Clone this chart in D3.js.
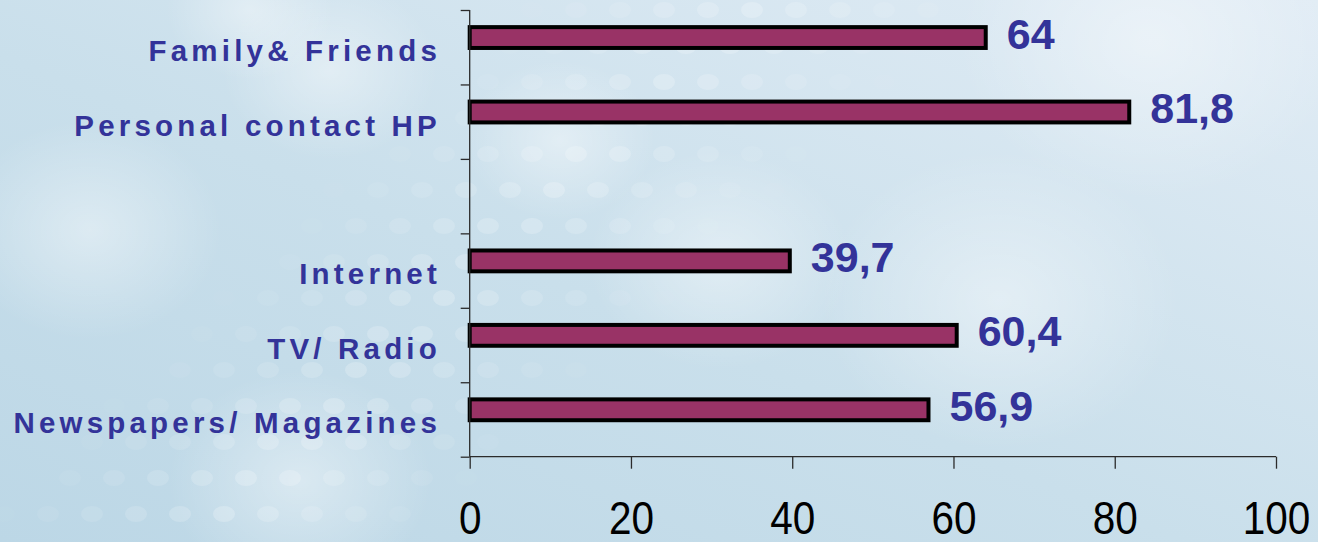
<!DOCTYPE html>
<html><head><meta charset="utf-8">
<script src="https://cdn.jsdelivr.net/npm/d3@7"></script>
<style>html,body{margin:0;padding:0;overflow:hidden;background:#cfe2ee}svg{display:block}</style>
</head><body>
<svg id="c" width="1318" height="542"></svg>
<script>
// ---- data ----
const categories = ["Family& Friends", "Personal contact HP", "", "Internet", "TV/ Radio", "Newspapers/ Magazines"];
const values = [64, 81.8, null, 39.7, 60.4, 56.9];
const valueLabels = ["64", "81,8", "", "39,7", "60,4", "56,9"];
const xTicks = [0, 20, 40, 60, 80, 100];

const W = 1318, H = 542;
const svg = d3.select("#c");
const defs = svg.append("defs");

// ---- background ----
const bg = defs.append("linearGradient").attr("id", "bg")
  .attr("x1", "0").attr("y1", "1").attr("x2", "1").attr("y2", "0");
bg.append("stop").attr("offset", "0").attr("stop-color", "#bcd7e6");
bg.append("stop").attr("offset", "0.45").attr("stop-color", "#c9dfeb");
bg.append("stop").attr("offset", "1").attr("stop-color", "#e1ecf5");
svg.append("rect").attr("width", W).attr("height", H).attr("fill", "url(#bg)");

const blob = defs.append("radialGradient").attr("id", "blob");
blob.append("stop").attr("offset", "0").attr("stop-color", "#ffffff").attr("stop-opacity", 0.4);
blob.append("stop").attr("offset", "1").attr("stop-color", "#ffffff").attr("stop-opacity", 0);
const blobs = [[90, 230, 110], [330, 70, 90], [250, 10, 70], [720, 260, 110], [300, 480, 110], [1150, 40, 160], [1000, 300, 150], [560, 140, 80]];
svg.append("g").selectAll("ellipse").data(blobs).join("ellipse")
  .attr("cx", d => d[0]).attr("cy", d => d[1]).attr("rx", d => d[2] * 1.2).attr("ry", d => d[2])
  .attr("fill", "url(#blob)");

// faint dotted pattern along a diagonal band (decorative)
const dots = [];
for (let r = 0; r < 16; r++) {
  for (let c = 0; c < 24; c++) {
    const px = c * 44 + (r % 2) * 22 - 40;
    const py = r * 36 + 10;
    const d = Math.abs((px - 170) * 0.692 + (py - 560) * 0.721);
    const op = 0.22 * (1 - d / 170);
    if (op > 0.02) dots.push([px, py, op]);
  }
}
svg.append("g").selectAll("ellipse").data(dots).join("ellipse")
  .attr("cx", d => d[0]).attr("cy", d => d[1]).attr("rx", 11).attr("ry", 8)
  .attr("fill", "#ffffff").attr("opacity", d => d[2]);

// ---- scales ----
const x = d3.scaleLinear().domain([0, 100]).range([469.7, 1276]);
const yb = d3.scaleBand().domain(d3.range(categories.length)).range([10, 456.7]).padding(0);
const step = yb.step();
const yEdge = d3.scaleLinear().domain([0, categories.length]).range([10, 456.7]);

const g = svg.append("g");

// bars
const data = categories.map((c, i) => ({c, v: values[i], lab: valueLabels[i], i})).filter(d => d.v != null);
const barTop = i => yb(i) + step * 0.23;
const barH = step * 0.28;

g.selectAll("rect.bar").data(data).join("rect").attr("class", "bar")
  .attr("x", x(0)).attr("y", d => barTop(d.i))
  .attr("width", d => x(d.v) - x(0)).attr("height", barH)
  .attr("fill", "#993366").attr("stroke", "#000").attr("stroke-width", 4);

// value labels
g.selectAll("text.val").data(data).join("text").attr("class", "val")
  .attr("x", d => x(d.v) + 21)
  .attr("y", d => barTop(d.i) + barH / 2 + 11)
  .attr("font-family", "'Liberation Sans', Arial, sans-serif")
  .attr("font-weight", "bold").attr("font-size", 43)
  .attr("fill", "#333399").text(d => d.lab);

// y axis (ticks at band edges)
const yAxis = g.append("g").attr("transform", `translate(${x(0)},0)`)
  .call(d3.axisLeft(yEdge).tickValues(d3.range(categories.length + 1)).tickSize(9).tickFormat(""));
yAxis.selectAll("path,line").attr("stroke", "#2b2b2b").attr("stroke-width", 1.3);
yAxis.select(".domain").attr("d", `M0,${yEdge(0)}V${yEdge(categories.length)}`);

// category labels
g.selectAll("text.cat").data(categories.map((c, i) => ({c, i}))).join("text").attr("class", "cat")
  .attr("x", 441).attr("y", d => yb(d.i) + step / 2).attr("dy", "0.47em")
  .attr("text-anchor", "end")
  .attr("font-family", "'Liberation Sans', Arial, sans-serif")
  .attr("font-weight", "bold").attr("font-size", 29.5)
  .attr("letter-spacing", "4.2px")
  .attr("fill", "#333399").text(d => d.c);

// x axis
const xAxis = g.append("g").attr("transform", `translate(0,${yEdge(categories.length)})`)
  .call(d3.axisBottom(x).tickValues(xTicks).tickSize(12).tickFormat(d => d));
xAxis.selectAll("path,line").attr("stroke", "#2b2b2b").attr("stroke-width", 1.3);
xAxis.select(".domain").attr("d", `M${x(0)},0H${x(100)}`);
xAxis.selectAll("text")
  .attr("y", 77).attr("dy", 0)
  .attr("font-family", "'Liberation Sans', Arial, sans-serif")
  .attr("font-size", 46).attr("fill", "#000")
  .attr("transform", "scale(0.88,1)");
</script>
</body></html>
